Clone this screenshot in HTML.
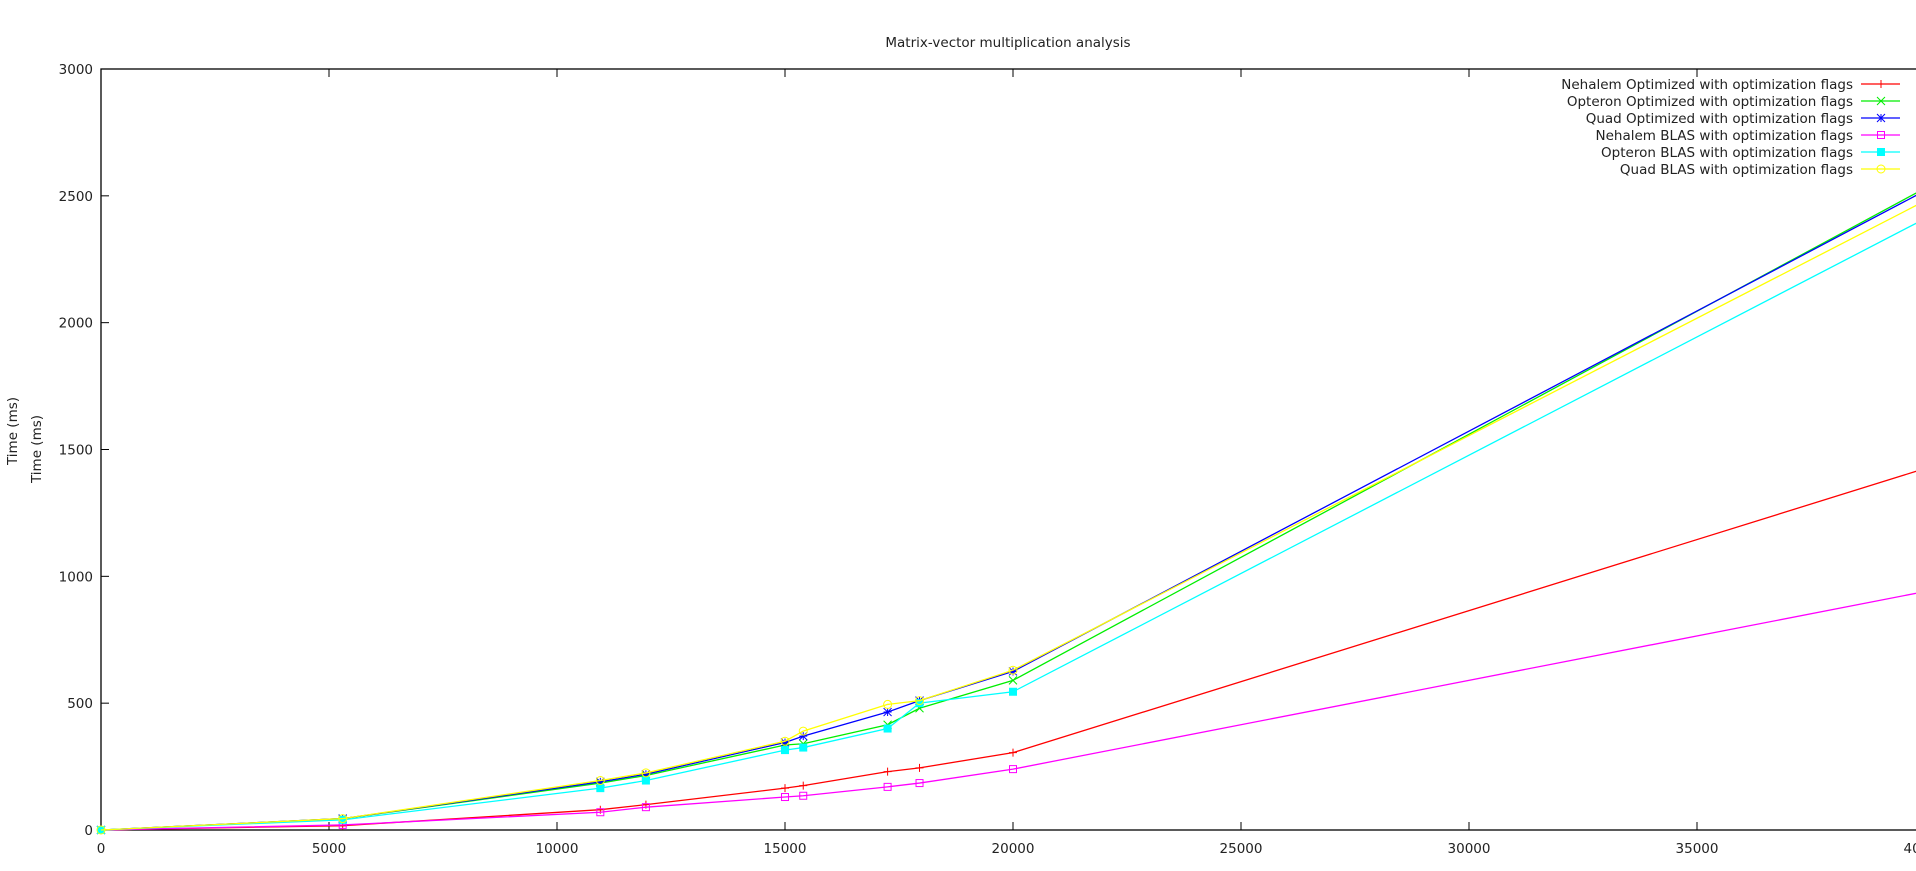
<!DOCTYPE html>
<html><head><meta charset="utf-8"><style>
body{margin:0;background:#fff;}
svg text{font-family:"DejaVu Sans","Liberation Sans",sans-serif;fill:#222;}
</style></head><body>
<svg id="chart" width="1916" height="866" xmlns="http://www.w3.org/2000/svg">
<text x="1008" y="47" font-size="13.5" text-anchor="middle">Matrix-vector multiplication analysis</text>
<text transform="translate(17,431) rotate(-90)" font-size="13.5" text-anchor="middle">Time (ms)</text>
<text transform="translate(41,449) rotate(-90)" font-size="13.5" text-anchor="middle">Time (ms)</text>
<g id="axes"></g><g id="series"></g><g id="legend"></g>
</svg>
<script>
const xs = [0, 5300, 10950, 11950, 15000, 15400, 17250, 17950, 20000, 40000];
const nehalemOpt = [0, 17, 80, 100, 165, 175, 230, 245, 305, 1425];
const opteronOpt = [0, 45, 185, 215, 335, 340, 415, 480, 590, 2530];
const quadOpt = [0, 45, 190, 220, 345, 370, 465, 510, 625, 2520];
const nehalemBlas = [0, 20, 70, 90, 130, 135, 170, 185, 240, 940];
const opteronBlas = [0, 40, 165, 195, 315, 325, 400, 500, 545, 2410];
const quadBlas = [0, 45, 195, 225, 350, 390, 495, 510, 630, 2480];
const xTicks = [0, 5000, 10000, 15000, 20000, 25000, 30000, 35000, 40000];
const yTicks = [0, 500, 1000, 1500, 2000, 2500, 3000];
const seriesNames = ["Nehalem Optimized with optimization flags","Opteron Optimized with optimization flags","Quad Optimized with optimization flags","Nehalem BLAS with optimization flags","Opteron BLAS with optimization flags","Quad BLAS with optimization flags"];

const NS="http://www.w3.org/2000/svg";
const X0=101,X1=1925,Y0=830,Y1=69;
const sx=v=>X0+(v-0)/40000*(X1-X0);
const sy=v=>Y0-(v/3000)*(Y0-Y1);
function mk(tag,attrs,parent){const e=document.createElementNS(NS,tag);for(const k in attrs)e.setAttribute(k,attrs[k]);parent.appendChild(e);return e;}
const axes=document.getElementById('axes');
const frame=mk('rect',{x:X0,y:Y1,width:X1-X0,height:Y0-Y1,fill:'none',stroke:'#000','stroke-width':1.3},axes);


xTicks.forEach(t=>{
  const x=sx(t);
  mk('line',{x1:x,y1:Y0,x2:x,y2:Y0-8,stroke:'#000'},axes);
  mk('line',{x1:x,y1:Y1,x2:x,y2:Y1+8,stroke:'#000'},axes);
  const tx=mk('text',{x:x,y:853,'font-size':13.5,'text-anchor':'middle'},axes);
  tx.textContent=t;
  
  
});
yTicks.forEach(t=>{
  const y=sy(t);
  mk('line',{x1:X0,y1:y,x2:X0+8,y2:y,stroke:'#000'},axes);
  const tx=mk('text',{x:93,y:y+5,'font-size':13.5,'text-anchor':'end'},axes);
  tx.textContent=t;
  
  
});
function marker(g,type,x,y,c){
  const s=4;
  if(type==='plus'){mk('path',{d:`M${x-s} ${y}H${x+s}M${x} ${y-s}V${y+s}`,stroke:c,fill:'none'},g);}
  else if(type==='x'){mk('path',{d:`M${x-s} ${y-s}L${x+s} ${y+s}M${x-s} ${y+s}L${x+s} ${y-s}`,stroke:c,fill:'none'},g);}
  else if(type==='star'){mk('path',{d:`M${x-s} ${y}H${x+s}M${x} ${y-s}V${y+s}M${x-s} ${y-s}L${x+s} ${y+s}M${x-s} ${y+s}L${x+s} ${y-s}`,stroke:c,fill:'none'},g);}
  else if(type==='box'){mk('rect',{x:x-3.5,y:y-3.5,width:7,height:7,stroke:c,fill:'none'},g);}
  else if(type==='fbox'){mk('rect',{x:x-4,y:y-4,width:8,height:8,fill:c},g);}
  else if(type==='circle'){mk('circle',{cx:x,cy:y,r:4,stroke:c,fill:'none'},g);}
}
const all=[[nehalemOpt,'#ff0000','plus','nehalem-optimized'],[opteronOpt,'#00ee00','x','opteron-optimized'],[quadOpt,'#0000ff','star','quad-optimized'],[nehalemBlas,'#ff00ff','box','nehalem-blas'],[opteronBlas,'#00ffff','fbox','opteron-blas'],[quadBlas,'#ffff00','circle','quad-blas']];
const sg=document.getElementById('series');
all.forEach(([vals,c,m,name])=>{
  const g=mk('g',{},sg);
  
  
  mk('polyline',{points:vals.map((v,i)=>sx(xs[i])+','+sy(v)).join(' '),fill:'none',stroke:c,'stroke-width':1.3},g);
  vals.forEach((v,i)=>marker(g,m,sx(xs[i]),sy(v),c));
});
const lg=document.getElementById('legend');
all.forEach(([vals,c,m,name],i)=>{
  const y=84+i*17;
  const g=mk('g',{},lg);
  
  
  const t=mk('text',{x:1853,y:y+5,'font-size':13.5,'text-anchor':'end'},g);
  t.textContent=seriesNames[i];
  mk('line',{x1:1861,y1:y,x2:1900,y2:y,stroke:c,'stroke-width':1.3},g);
  marker(g,m,1881,y,c);
});
</script>
</body></html>
